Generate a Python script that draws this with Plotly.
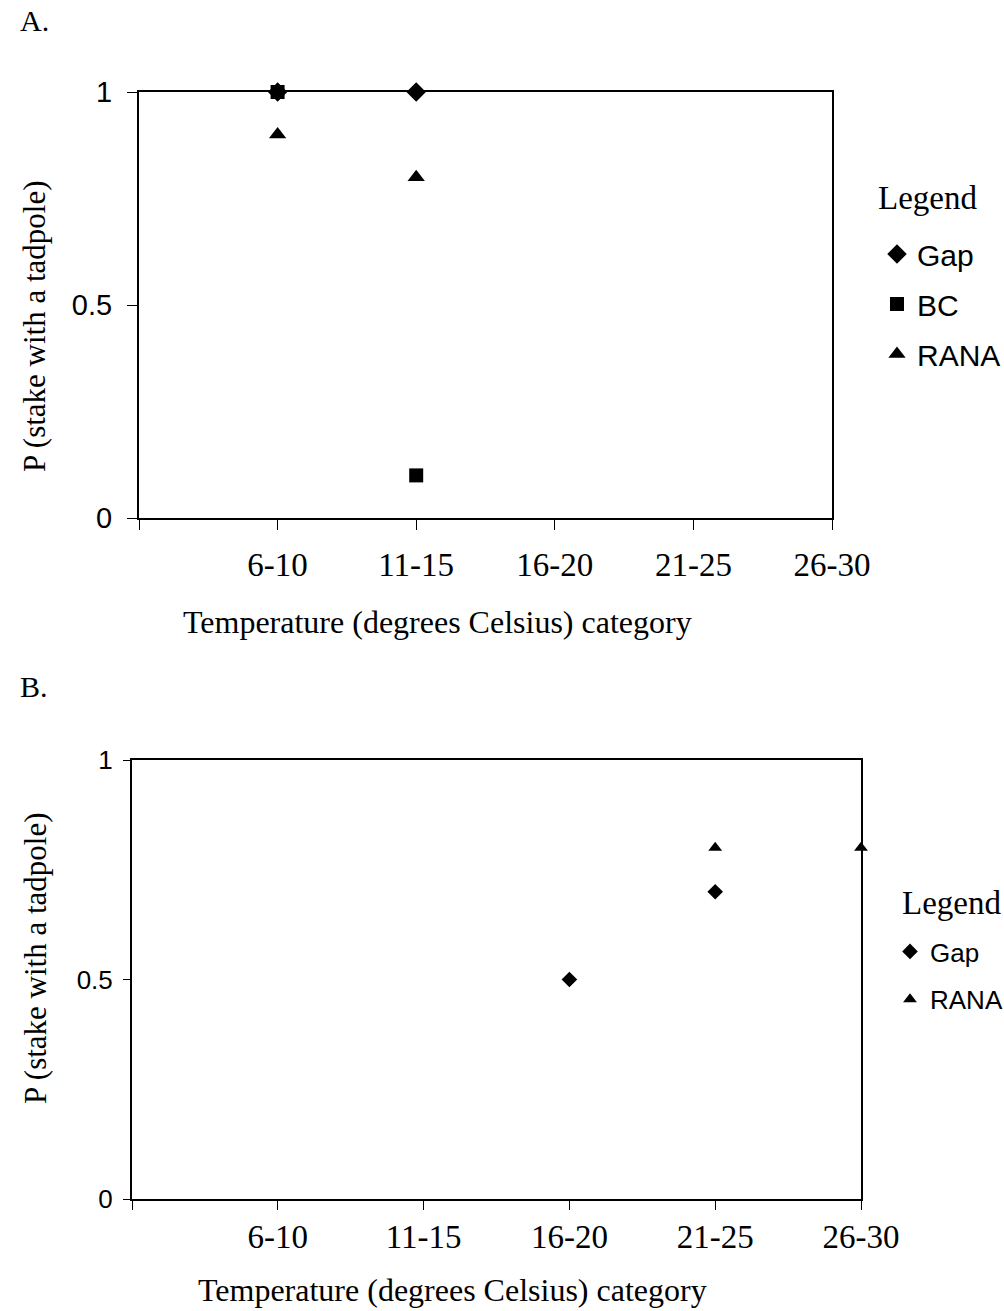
import plotly.graph_objects as go

# ---- data ----
categories = ["6-10", "11-15", "16-20", "21-25", "26-30"]
axis_categories = [" "] + categories  # leading blank slot so the axis starts one step before 6-10

a_gap_x = ["6-10", "11-15"]
a_gap_y = [1.0, 1.0]
a_bc_x = ["6-10", "11-15"]
a_bc_y = [1.0, 0.1]
a_rana_x = ["6-10", "11-15"]
a_rana_y = [0.9, 0.8]

b_gap_x = ["16-20", "21-25"]
b_gap_y = [0.5, 0.7]
b_rana_x = ["21-25", "26-30"]
b_rana_y = [0.8, 0.8]

y_ticks = [0, 0.5, 1]
y_ticktext = ["0", "0.5", "1"]

SERIF = "Liberation Serif, Times New Roman, serif"
SANS = "Liberation Sans, Arial, sans-serif"
W, H = 1004, 1311

fig = go.Figure()

def add(x, y, name, symbol, size, xa, ya, legend, group):
    fig.add_trace(go.Scatter(
        x=x, y=y, name=name, mode="markers",
        marker=dict(symbol=symbol, size=size, color="black", line=dict(width=0)),
        xaxis=xa, yaxis=ya, legend=legend, legendgroup=group, cliponaxis=False,
    ))

add(a_gap_x, a_gap_y, "Gap", "diamond", 15, "x", "y", "legend", "a1")
add(a_bc_x, a_bc_y, "BC", "square", 14, "x", "y", "legend", "a2")
add(a_rana_x, a_rana_y, "RANA", "triangle-up", 15, "x", "y", "legend", "a3")
add(b_gap_x, b_gap_y, "Gap", "diamond", 12, "x2", "y2", "legend2", "b1")
add(b_rana_x, b_rana_y, "RANA", "triangle-up", 12, "x2", "y2", "legend2", "b2")

def xaxis(domain, anchor, standoff, ticklen):
    return dict(
        domain=domain, anchor=anchor, type="category",
        categoryorder="array", categoryarray=axis_categories,
        range=[0, 5], showline=True, linecolor="black", linewidth=2, mirror=True,
        ticks="outside", ticklen=ticklen, tickwidth=1, tickcolor="black",
        showgrid=False, zeroline=False, automargin=False,
        tickfont=dict(family=SERIF, size=33, color="black"),
        ticklabelstandoff=standoff,
    )

def yaxis(domain, anchor, size, standoff, ticklen):
    return dict(
        domain=domain, anchor=anchor, range=[0, 1],
        tickvals=y_ticks, ticktext=y_ticktext,
        showline=True, linecolor="black", linewidth=2, mirror=True,
        ticks="outside", ticklen=ticklen, tickwidth=1, tickcolor="black",
        showgrid=False, zeroline=False, automargin=False,
        tickfont=dict(family=SANS, size=size, color="black"),
        ticklabelstandoff=standoff,
    )

def px(x):
    return x / W

def py(y):
    return 1 - y / H

fig.update_layout(
    template="none",
    width=W, height=H, margin=dict(l=0, r=0, t=0, b=0, autoexpand=False),
    paper_bgcolor="white", plot_bgcolor="white",
    xaxis=xaxis([px(139), px(832)], "y", 6, 10),
    yaxis=yaxis([py(518), py(92)], "x", 29, 9, 10),
    xaxis2=xaxis([px(132), px(861)], "y2", -2, 9),
    yaxis2=yaxis([py(1199), py(760)], "x2", 26, 5, 7),
    legend=dict(
        x=px(877), y=py(228), xanchor="left", yanchor="top",
        font=dict(family=SANS, size=30, color="black"),
        traceorder="grouped", tracegroupgap=8, itemsizing="trace",
        bgcolor="rgba(0,0,0,0)", borderwidth=0,
    ),
    legend2=dict(
        x=px(890), y=py(928), xanchor="left", yanchor="top",
        font=dict(family=SANS, size=26, color="black"),
        traceorder="grouped", tracegroupgap=11, itemsizing="trace",
        bgcolor="rgba(0,0,0,0)", borderwidth=0,
    ),
    showlegend=True,
)

annotations = [
    dict(text="A.", x=px(18), y=py(21), xanchor="left", yanchor="middle", size=30),
    dict(text="B.", x=px(18), y=py(686), xanchor="left", yanchor="middle", size=30),
    dict(text="Legend", x=px(876), y=py(198), xanchor="left", yanchor="middle", size=33),
    dict(text="Legend", x=px(900), y=py(903), xanchor="left", yanchor="middle", size=33),
    dict(text="Temperature (degrees Celsius) category", x=px(437), y=py(622),
         xanchor="center", yanchor="middle", size=32),
    dict(text="Temperature (degrees Celsius) category", x=px(452), y=py(1290),
         xanchor="center", yanchor="middle", size=32),
    dict(text="P (stake with a tadpole)", x=px(35), y=py(326), xanchor="center",
         yanchor="middle", size=31, angle=-90),
    dict(text="P (stake with a tadpole)", x=px(35), y=py(958), xanchor="center",
         yanchor="middle", size=31, angle=-90),
]
for a in annotations:
    fig.add_annotation(
        text=a["text"], x=a["x"], y=a["y"], xref="paper", yref="paper",
        xanchor=a["xanchor"], yanchor=a["yanchor"], showarrow=False,
        textangle=a.get("angle", 0),
        font=dict(family=SERIF, size=a["size"], color="black"),
    )

fig.write_html("out.html")
